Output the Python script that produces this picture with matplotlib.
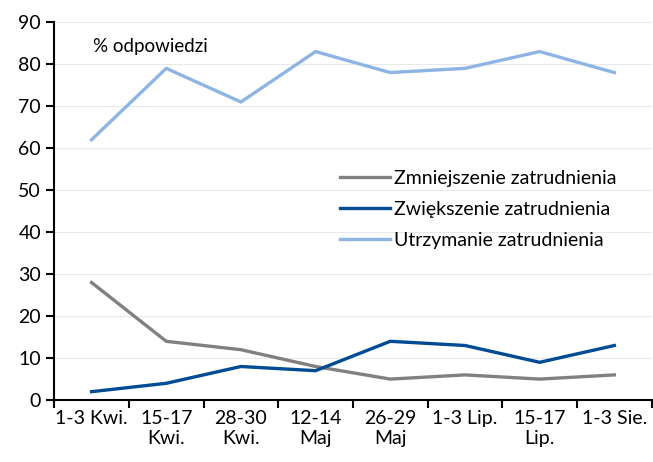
import matplotlib.pyplot as plt

categories = ["1-3 Kwi.", "15-17\nKwi.", "28-30\nKwi.", "12-14\nMaj", "26-29\nMaj",
              "1-3 Lip.", "15-17\nLip.", "1-3 Sie."]
zmniejszenie = [28, 14, 12, 8, 5, 6, 5, 6]
zwiekszenie = [2, 4, 8, 7, 14, 13, 9, 13]
utrzymanie = [62, 79, 71, 83, 78, 79, 83, 78]

plt.rcParams['font.family'] = ['Lato', 'DejaVu Sans']

fig = plt.figure(figsize=(6.53, 4.62), dpi=100)
ax = fig.add_axes([0.083, 0.134, 0.915, 0.818])

x = range(len(categories))
ax.plot(x, zmniejszenie, color="#808080", lw=2.4, label="Zmniejszenie zatrudnienia")
ax.plot(x, zwiekszenie, color="#004B93", lw=2.4, label="Zwiększenie zatrudnienia")
ax.plot(x, utrzymanie, color="#8EB4E3", lw=2.4, label="Utrzymanie zatrudnienia")

ax.set_xlim(-0.5, len(categories) - 0.5)
ax.set_ylim(0, 90)
ax.set_yticks(range(0, 91, 10))
ax.set_xticks([i - 0.5 for i in range(len(categories) + 1)], minor=False)
ax.set_xticklabels([])
ax.set_xticks(list(x), minor=True)
ax.set_xticklabels(categories, minor=True, fontsize=14)
ax.tick_params(axis="x", which="minor", length=0, pad=7)
ax.tick_params(axis="x", which="major", length=6, width=1.5, direction="out")
ax.tick_params(axis="y", length=6, width=1.5, direction="out", labelsize=14)

ax.grid(axis="y", color="#E8E8E8", lw=0.8)
ax.set_axisbelow(True)
for s in ["top", "right"]:
    ax.spines[s].set_visible(False)
for s in ["left", "bottom"]:
    ax.spines[s].set_linewidth(1.5)

ax.text(0.065, 0.935, "% odpowiedzi", transform=ax.transAxes, fontsize=13.5, va="center")

ax.legend(loc="upper left", bbox_to_anchor=(0.465, 0.63), frameon=False, fontsize=14,
          handlelength=2.6, handletextpad=0.2, labelspacing=0.72, borderaxespad=0)

plt.savefig("out.png", dpi=100)
plt.close()
